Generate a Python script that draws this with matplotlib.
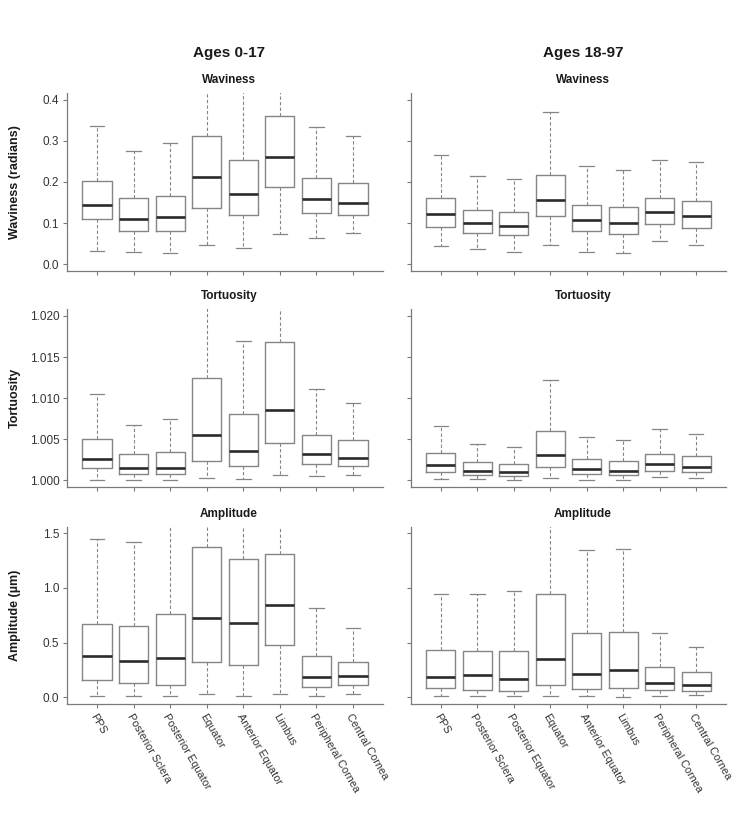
import numpy as np
import matplotlib
matplotlib.use("Agg")
import matplotlib.pyplot as plt

plt.rcParams['font.family'] = ['Liberation Sans', 'DejaVu Sans']

regions = ['PPS', 'Posterior Sclera', 'Posterior Equator', 'Equator',
           'Anterior Equator', 'Limbus', 'Peripheral Cornea', 'Central Cornea']

# each row: whisker low, Q1, median, Q3, whisker high
wav_young = [[0.032, 0.110, 0.143, 0.202, 0.337],
             [0.030, 0.080, 0.111, 0.160, 0.276],
             [0.028, 0.080, 0.115, 0.166, 0.294],
             [0.046, 0.137, 0.211, 0.311, 0.450],
             [0.038, 0.119, 0.170, 0.253, 0.430],
             [0.074, 0.189, 0.260, 0.360, 0.500],
             [0.063, 0.124, 0.159, 0.210, 0.333],
             [0.075, 0.119, 0.149, 0.198, 0.311]]
wav_adult = [[0.045, 0.091, 0.122, 0.162, 0.266],
             [0.036, 0.075, 0.100, 0.132, 0.215],
             [0.030, 0.070, 0.092, 0.126, 0.207],
             [0.046, 0.116, 0.157, 0.218, 0.371],
             [0.029, 0.080, 0.107, 0.144, 0.239],
             [0.026, 0.073, 0.099, 0.138, 0.230],
             [0.056, 0.097, 0.126, 0.161, 0.254],
             [0.046, 0.089, 0.118, 0.153, 0.249]]

tor_young = [[1.00004, 1.00146, 1.00256, 1.00499, 1.01047],
             [1.00004, 1.00073, 1.00154, 1.00316, 1.00673],
             [1.00004, 1.00073, 1.00154, 1.00341, 1.00742],
             [1.00024, 1.00231, 1.00556, 1.01241, 1.02200],
             [1.00016, 1.00179, 1.00361, 1.00803, 1.01700],
             [1.00065, 1.00450, 1.00856, 1.01680, 1.02300],
             [1.00049, 1.00195, 1.00316, 1.00556, 1.01116],
             [1.00065, 1.00179, 1.00276, 1.00491, 1.00945]]
tor_adult = [[1.00016, 1.00098, 1.00191, 1.00330, 1.00664],
             [1.00016, 1.00065, 1.00118, 1.00220, 1.00440],
             [1.00004, 1.00053, 1.00106, 1.00200, 1.00407],
             [1.00029, 1.00167, 1.00310, 1.00599, 1.01222],
             [1.00004, 1.00073, 1.00143, 1.00257, 1.00530],
             [1.00004, 1.00061, 1.00118, 1.00236, 1.00489],
             [1.00041, 1.00110, 1.00204, 1.00322, 1.00619],
             [1.00029, 1.00098, 1.00167, 1.00297, 1.00566]]

amp_young = [[0.015, 0.162, 0.379, 0.675, 1.448],
             [0.015, 0.134, 0.336, 0.654, 1.424],
             [0.015, 0.116, 0.364, 0.764, 1.600],
             [0.027, 0.327, 0.724, 1.378, 1.700],
             [0.015, 0.293, 0.681, 1.262, 1.700],
             [0.031, 0.477, 0.840, 1.311, 1.800],
             [0.015, 0.092, 0.186, 0.379, 0.813],
             [0.027, 0.116, 0.196, 0.321, 0.636]]
amp_adult = [[0.009, 0.085, 0.186, 0.433, 0.948],
             [0.009, 0.067, 0.207, 0.421, 0.945],
             [0.009, 0.061, 0.171, 0.424, 0.970],
             [0.012, 0.116, 0.354, 0.945, 1.600],
             [0.009, 0.073, 0.216, 0.585, 1.348],
             [0.003, 0.082, 0.247, 0.595, 1.360],
             [0.015, 0.070, 0.131, 0.277, 0.585],
             [0.021, 0.058, 0.113, 0.232, 0.463]]

rows = [('Waviness', 'Waviness (radians)', wav_young, wav_adult, (0.0, 0.4), 0.1, '{:.1f}'),
        ('Tortuosity', 'Tortuosity', tor_young, tor_adult, (1.000, 1.020), 0.005, '{:.3f}'),
        ('Amplitude', 'Amplitude (\u00b5m)', amp_young, amp_adult, (0.0, 1.5), 0.5, '{:.1f}')]

W, H = 748, 823
fig = plt.figure(figsize=(W / 100, H / 100), dpi=100)

col_x = [(67, 316), (411, 315)]
row_y = [(93.4, 270.6), (309.4, 486.9), (526.7, 703.9)]

box_col = '#858585'
axis_col = '#7a7a7a'
txt_col = '#333333'


def stats_of(rows_):
    out = []
    for lo, q1, med, q3, hi in rows_:
        out.append(dict(whislo=lo, q1=q1, med=med, q3=q3, whishi=hi, fliers=[]))
    return out


for r, (title, ylab, young, adult, (y0, y1), step, fmt) in enumerate(rows):
    top, bot = row_y[r]
    for c, data in enumerate([young, adult]):
        x0, w = col_x[c]
        ax = fig.add_axes([x0 / W, 1 - bot / H, w / W, (bot - top) / H])
        ax.bxp(stats_of(data), positions=np.arange(1, 9), widths=0.8,
               showfliers=False,
               boxprops=dict(color=box_col, linewidth=1.0),
               medianprops=dict(color='#2b2b2b', linewidth=1.9),
               whiskerprops=dict(color=box_col, linewidth=0.8, linestyle=(0, (3, 2))),
               capprops=dict(color=box_col, linewidth=0.9),
               capwidths=0.4)
        ext = (y1 - y0) * 0.04
        ax.set_ylim(y0 - ext, y1 + ext)
        ax.set_xlim(0.18, 8.82)
        ticks = np.arange(y0, y1 + step / 2, step)
        ax.set_yticks(ticks)
        for s in ['top', 'right']:
            ax.spines[s].set_visible(False)
        for s in ['left', 'bottom']:
            ax.spines[s].set_color(axis_col)
            ax.spines[s].set_linewidth(0.9)
        ax.tick_params(colors=axis_col, length=3, width=0.8, labelcolor=txt_col,
                       labelsize=8.5, pad=2.5)
        ax.set_xticks(np.arange(1, 9))
        if c == 0:
            ax.set_yticklabels([fmt.format(t) for t in ticks])
            ax.set_ylabel(ylab, fontsize=9, fontweight='bold', color='#1a1a1a')
            ax.yaxis.set_label_coords(-46 / w, 0.5)
        else:
            ax.set_yticklabels([])
        if r == 2:
            ax.set_xticklabels(regions, rotation=-60, ha='left', va='top',
                               rotation_mode='anchor', fontsize=7.8)
        else:
            ax.set_xticklabels([])
        cx = (x0 + 162) / W if c == 0 else (x0 + 172) / W
        fig.text(cx, 1 - (top - 13) / H, title, ha='center', va='center',
                 fontsize=8.5, fontweight='bold', color='#1a1a1a')

fig.text(229 / W, 1 - 53 / H, 'Ages 0-17', ha='center', va='center',
         fontsize=11, fontweight='bold', color='#1a1a1a')
fig.text(583 / W, 1 - 53 / H, 'Ages 18-97', ha='center', va='center',
         fontsize=11, fontweight='bold', color='#1a1a1a')

fig.savefig('out.png', dpi=100, facecolor='white')
